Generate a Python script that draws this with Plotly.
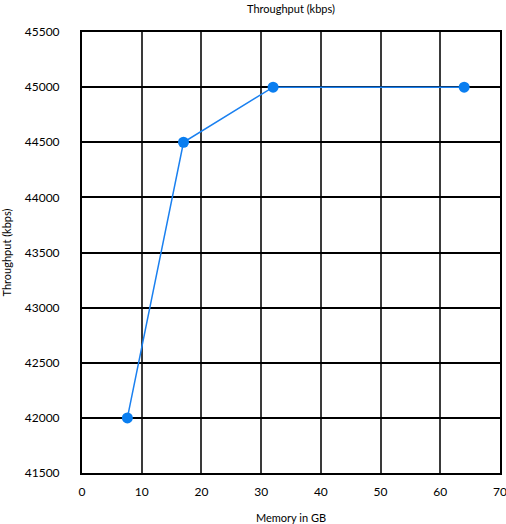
import plotly.graph_objects as go

memory_gb = [7.6, 17, 32, 64]
throughput_kbps = [42000, 44500, 45000, 45000]
x_ticks = [0, 10, 20, 30, 40, 50, 60, 70]
y_ticks = [41500, 42000, 42500, 43000, 43500, 44000, 44500, 45000, 45500]

fig = go.Figure()
fig.add_trace(go.Scatter(
    x=memory_gb, y=throughput_kbps, mode="lines+markers",
    line=dict(color="#1a80f0", width=1.5),
    marker=dict(color="#0a7ef0", size=11),
    showlegend=False,
))

font = dict(family="Lato, Carlito, sans-serif", size=11, color="black")
fig.update_layout(
    width=506, height=524,
    margin=dict(l=82, r=6, t=32, b=51, autoexpand=False),
    paper_bgcolor="white", plot_bgcolor="white",
    font=font,
    title=dict(text="Throughput (kbps)", x=(82 + 500) / 2 / 506, xanchor="center",
               y=1 - 9 / 524, yanchor="middle", font=dict(size=11)),
)
fig.update_xaxes(
    range=[0, 70], tickvals=x_ticks, ticktext=[str(v) for v in x_ticks],
    showgrid=True, gridcolor="#3a3a3a", gridwidth=2,
    showline=True, linecolor="black", linewidth=2, mirror=True,
    zeroline=False, ticks="", ticklabelstandoff=7, automargin=False,
    ticklabeloverflow="allow",
    tickfont=dict(size=12),
    title=dict(text="Memory in GB", standoff=16, font=dict(size=11)),
)
fig.update_yaxes(
    range=[41500, 45500], tickvals=y_ticks, ticktext=[str(v) for v in y_ticks],
    showgrid=True, gridcolor="black", gridwidth=1.5,
    showline=True, linecolor="black", linewidth=2, mirror=True,
    zeroline=False, ticks="", ticklabelstandoff=18, automargin=False,
    tickfont=dict(size=12),
    title=dict(text="Throughput (kbps)", standoff=14, font=dict(size=11)),
)
fig.write_html("out.html", config={"displayModeBar": False},
               post_script="document.body.style.margin='0';")
